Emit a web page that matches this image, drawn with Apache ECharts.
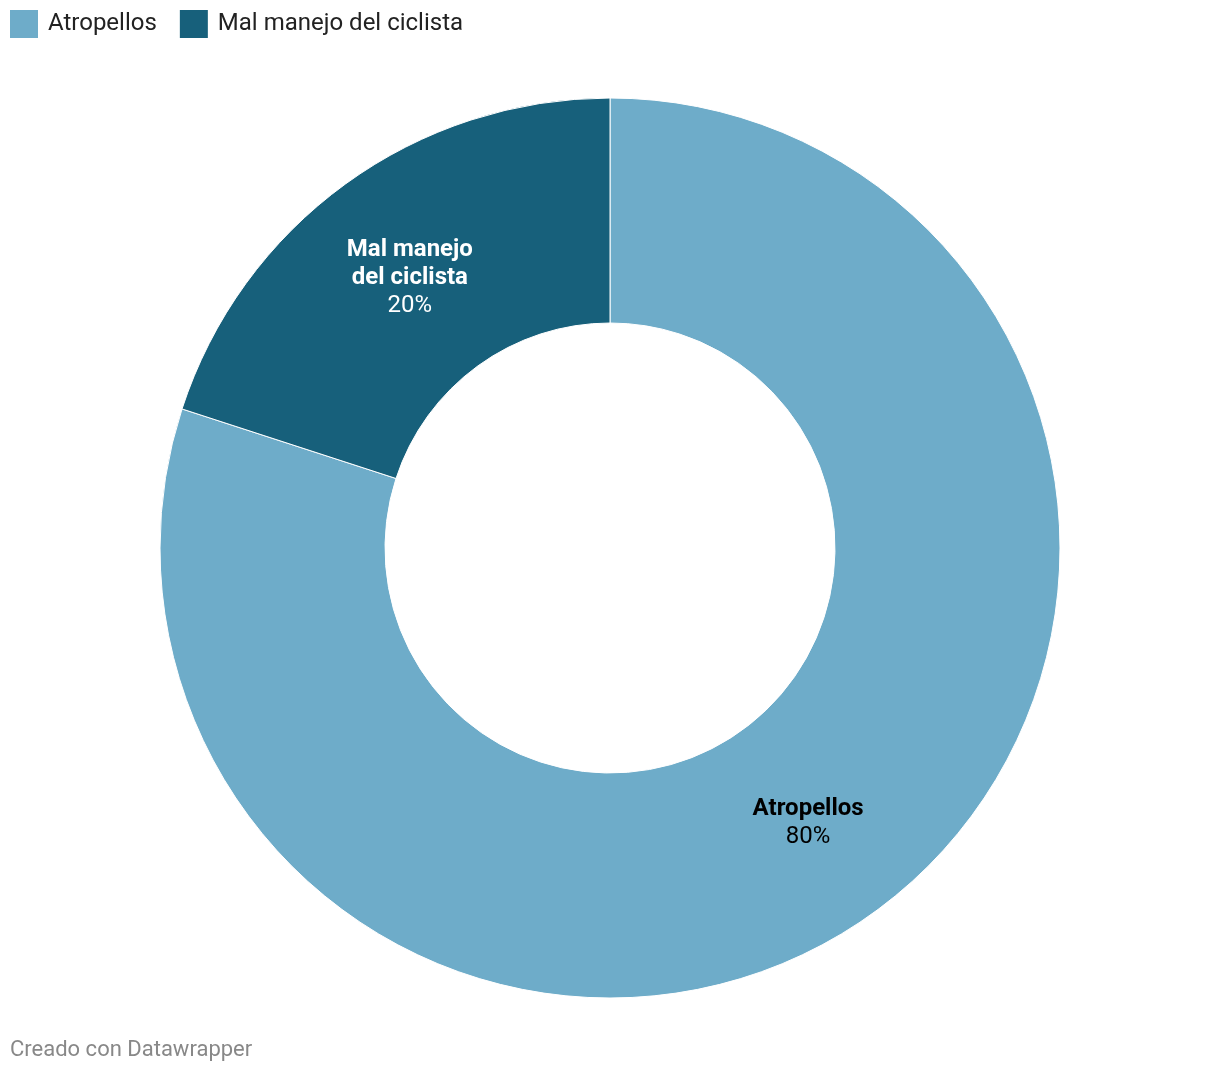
<!DOCTYPE html>
<html>
<head>
<meta charset="utf-8">
<style>
html,body{margin:0;padding:0;background:#fff;}
#chart{width:1220px;height:1074px;}
</style>
<script src="https://cdn.jsdelivr.net/npm/echarts@6/dist/echarts.min.js"></script>
</head>
<body>
<div id="chart"></div>
<script>
const categories = ["Atropellos", "Mal manejo del ciclista"];
const labelLines = [["Atropellos"], ["Mal manejo", "del ciclista"]];
const values = [80, 20];
const colors = ["#6eacc9", "#17607b"];
const labelColors = ["#000000", "#ffffff"];
const footer = "Creado con Datawrapper";

const chart = echarts.init(document.getElementById('chart'), null, {renderer: 'canvas'});
const FONT = 'Roboto';
const labelOffsets = [[-2, 0], [0, 5]];
const data = categories.map((c, i) => ({
  name: c,
  value: values[i],
  itemStyle: {color: colors[i]},
  label: {
    offset: labelOffsets[i],
    formatter: () => labelLines[i].map(l => '{b|' + l + '}').join('\n') + '\n{v|' + values[i] + '%}',
    rich: {
      b: {fontFamily: FONT, fontSize: 24, fontWeight: 'bold', color: labelColors[i], lineHeight: 28, align: 'center'},
      v: {fontFamily: FONT, fontSize: 24, fontWeight: 'normal', color: labelColors[i], lineHeight: 28, align: 'center'}
    }
  }
}));

// legend built from categories via graphic
const legendGraphics = [];
let lx = 10;
const ctx = document.createElement('canvas').getContext('2d');
ctx.font = '24px Roboto';
categories.forEach((c, i) => {
  legendGraphics.push({type: 'rect', left: lx, top: 10, shape: {width: 28, height: 28}, style: {fill: colors[i]}});
  legendGraphics.push({type: 'text', left: lx + 38, top: 12, style: {text: c, fontFamily: FONT, fontSize: 24, fill: '#222'}});
  lx += 38 + ctx.measureText(c).width + 23;
});

chart.setOption({
  animation: false,
  graphic: legendGraphics.concat([{
    type: 'text', left: 10, top: 1039,
    style: {text: footer, fontFamily: FONT, fontSize: 22, fill: '#888'}
  }]),
  series: [{
    type: 'pie',
    center: [610, 548],
    radius: [225, 450],
    startAngle: 90,
    clockwise: true,
    silent: true,
    itemStyle: {borderColor: '#fff', borderWidth: 1},
    label: {show: true, position: 'inside'},
    labelLine: {show: false},
    data: data
  }]
});
</script>
</body>
</html>
